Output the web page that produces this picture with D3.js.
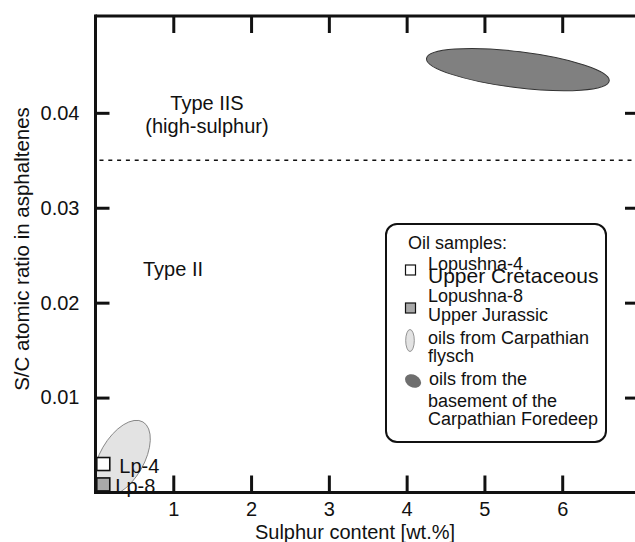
<!DOCTYPE html>
<html><head><meta charset="utf-8">
<script src="https://cdn.jsdelivr.net/npm/d3@7"></script>
<style>body{margin:0;background:#fff}svg{display:block;font-family:"Liberation Sans",Arial,sans-serif}</style>
</head><body>
<svg id="c" width="635" height="542"></svg>
<script>
const xTicks = [1, 2, 3, 4, 5, 6];
const yTicks = [0.01, 0.02, 0.03, 0.04];
const xTickLabels = ["1", "2", "3", "4", "5", "6"];
const yTickLabels = ["0.01", "0.02", "0.03", "0.04"];
const sampleNames = ["Lp-4", "Lp-8"];
const sampleX = [0.1, 0.1];
const sampleY = [0.003, 0.00085];
const sampleFill = ["#ffffff", "#a9a9a9"];
// oil fields: centre (x,y), semi-axis a (wt.%), semi-axis b (S/C), tilt (deg)
const fieldNames = ["Carpathian flysch", "basement of the Carpathian Foredeep"];
const fieldCX = [0.34, 5.43];
const fieldCY = [0.0036, 0.04455];
const fieldA = [0.54, 1.183];
const fieldB = [0.00232, 0.0019];
const fieldAngle = [-60, 7];
const fieldFill = ["#e3e3e3", "#808080"];
const fieldStroke = ["#7a7a7a", "#333333"];
const boundary = 0.035;

const svg = d3.select("#c");
const x = d3.scaleLinear().domain([0, 7]).range([95.5, 640]);
const y = d3.scaleLinear().domain([0, 0.0502]).range([492.5, 16]);

svg.append("defs").append("clipPath").attr("id", "pa")
  .append("rect").attr("x", x(0)).attr("y", y(0.0502)).attr("width", x(7) - x(0)).attr("height", y(0) - y(0.0502));

const plot = svg.append("g").attr("clip-path", "url(#pa)");

// fields
fieldNames.forEach((n, i) => {
  plot.append("ellipse")
    .attr("transform", `translate(${x(fieldCX[i])},${y(fieldCY[i])}) rotate(${fieldAngle[i]})`)
    .attr("rx", x(fieldA[i]) - x(0))
    .attr("ry", y(0) - y(fieldB[i]))
    .attr("fill", fieldFill[i])
    .attr("stroke", fieldStroke[i])
    .attr("stroke-width", i === 0 ? 0.8 : 1);
});

// boundary line
plot.append("line")
  .attr("x1", x(0) + 4).attr("x2", x(7))
  .attr("y1", y(boundary)).attr("y2", y(boundary))
  .attr("stroke", "#111").attr("stroke-width", 1.4).attr("stroke-dasharray", "4,4.8");

// samples
const sq = 13;
sampleNames.forEach((n, i) => {
  plot.append("rect")
    .attr("x", x(sampleX[i]) - sq / 2).attr("y", y(sampleY[i]) - sq / 2)
    .attr("width", sq).attr("height", sq)
    .attr("fill", sampleFill[i]).attr("stroke", "#111").attr("stroke-width", 1.6);
});
svg.append("text").attr("x", x(sampleX[0]) + 16).attr("y", y(sampleY[0]) + 9)
  .attr("font-size", 20).attr("fill", "#111").text(sampleNames[0]);
svg.append("text").attr("x", x(sampleX[1]) + 12).attr("y", y(sampleY[1]) + 9)
  .attr("font-size", 20).attr("fill", "#111").text(sampleNames[1]);

// axes
const axW = 3;
const axBottom = d3.axisBottom(x).tickValues(xTicks).tickSize(-17).tickFormat((d, i) => xTickLabels[i]).tickPadding(9);
const axTop = d3.axisTop(x).tickValues(xTicks).tickSize(-17).tickFormat("");
const axLeft = d3.axisLeft(y).tickValues(yTicks).tickSize(-14).tickFormat((d, i) => yTickLabels[i]).tickPadding(16);
const axRight = d3.axisRight(y).tickValues(yTicks).tickSize(-15).tickFormat("");

function style(g) {
  g.select(".domain").remove();
  g.selectAll(".tick line").attr("stroke", "#111").attr("stroke-width", axW);
  g.selectAll(".tick text").attr("font-size", 20).attr("fill", "#111").attr("font-family", "Liberation Sans, Arial, sans-serif");
}
svg.append("g").attr("transform", `translate(0,${y(0)})`).call(axBottom).call(style);
svg.append("g").attr("transform", `translate(0,${y(0.0502)})`).call(axTop).call(style);
svg.append("g").attr("transform", `translate(${x(0)},0)`).call(axLeft).call(style);
svg.append("g").attr("transform", `translate(${x(7)},0)`).call(axRight).call(style);

// frame lines
svg.append("line").attr("x1", x(0)).attr("x2", x(7)).attr("y1", y(0)).attr("y2", y(0)).attr("stroke", "#111").attr("stroke-width", axW);
svg.append("line").attr("x1", x(0)).attr("x2", x(7)).attr("y1", y(0.0502)).attr("y2", y(0.0502)).attr("stroke", "#111").attr("stroke-width", axW);
svg.append("line").attr("x1", x(0)).attr("x2", x(0)).attr("y1", y(0.0502) - axW / 2).attr("y2", y(0) + axW / 2).attr("stroke", "#111").attr("stroke-width", axW);

// axis titles
svg.append("text").attr("x", 355).attr("y", 539).attr("text-anchor", "middle")
  .attr("font-size", 20).attr("fill", "#111").text("Sulphur content [wt.%]");
svg.append("text").attr("transform", "translate(29,249) rotate(-90)").attr("text-anchor", "middle")
  .attr("font-size", 20.5).attr("fill", "#111").text("S/C atomic ratio in asphaltenes");

// region labels
svg.append("text").attr("x", 207).attr("y", 110).attr("text-anchor", "middle").attr("font-size", 20).attr("fill", "#111").text("Type IIS");
svg.append("text").attr("x", 207).attr("y", 133).attr("text-anchor", "middle").attr("font-size", 20).attr("fill", "#111").text("(high-sulphur)");
svg.append("text").attr("x", 143).attr("y", 276).attr("font-size", 20).attr("fill", "#111").text("Type II");

// legend
const lg = svg.append("g");
lg.append("rect").attr("x", 386).attr("y", 224).attr("width", 220).attr("height", 218).attr("rx", 11)
  .attr("fill", "#fff").attr("stroke", "#111").attr("stroke-width", 2);
const lt = (t, xx, yy, fs) => lg.append("text").attr("x", xx).attr("y", yy).attr("font-size", fs || 18).attr("fill", "#111").text(t);
lt("Oil samples:", 408, 248.5);
lg.append("rect").attr("x", 405.5).attr("y", 265).attr("width", 10).attr("height", 10).attr("fill", sampleFill[0]).attr("stroke", "#111").attr("stroke-width", 1.2);
lt("Lopushna-4", 428, 270);
lt("Upper Cretaceous", 428, 282.5, 21);
lg.append("rect").attr("x", 405.5).attr("y", 303).attr("width", 10).attr("height", 10).attr("fill", sampleFill[1]).attr("stroke", "#111").attr("stroke-width", 1.2);
lt("Lopushna-8", 428, 302);
lt("Upper Jurassic", 428, 320.5);
lg.append("ellipse").attr("cx", 410).attr("cy", 340.5).attr("rx", 4.3).attr("ry", 11)
  .attr("fill", fieldFill[0]).attr("stroke", fieldStroke[0]).attr("stroke-width", 0.8);
lt("oils from Carpathian", 428, 343.5);
lt("flysch", 428, 362);
lg.append("ellipse").attr("transform", "translate(413,381) rotate(28)").attr("rx", 8.5).attr("ry", 6.3)
  .attr("fill", "#6e6e6e");
lt("oils from the", 429, 385);
lt("basement of the", 428, 406.5);
lt("Carpathian Foredeep", 428, 425);
</script>
</body></html>
